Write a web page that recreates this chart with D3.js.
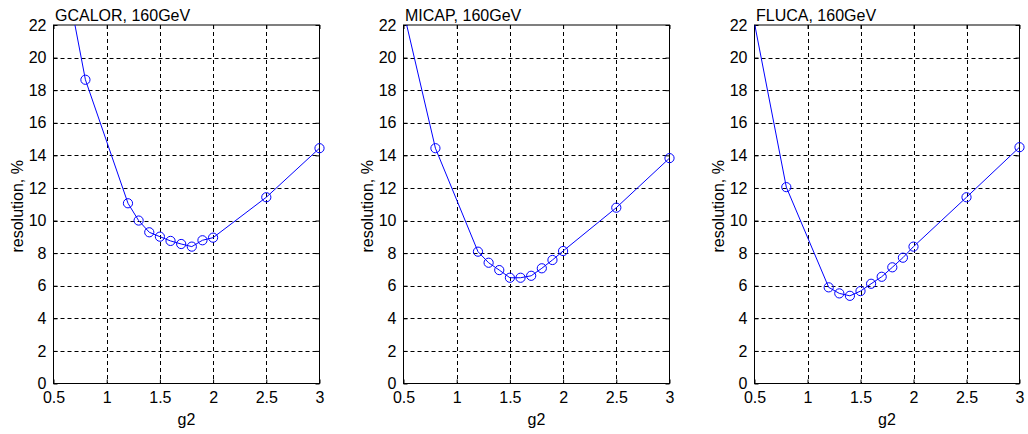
<!DOCTYPE html>
<html>
<head>
<meta charset="utf-8">
<script src="https://cdn.jsdelivr.net/npm/d3@7"></script>
<style>
  html, body { margin: 0; padding: 0; background: #fff; }
  svg { display: block; }
  text { font-family: "Liberation Sans", Arial, sans-serif; fill: #000; }
</style>
</head>
<body>
<svg id="chart" width="1028" height="434"></svg>
<script>
// ---- data ----
const g2 = [0.5, 0.8, 1.2, 1.3, 1.4, 1.5, 1.6, 1.7, 1.8, 1.9, 2.0, 2.5, 3.0];
const gcalor = [28.9, 18.64, 11.06, 10.0, 9.28, 9.01, 8.75, 8.56, 8.4, 8.79, 8.95, 11.43, 14.44];
const micap  = [22.84, 14.44, 8.09, 7.41, 6.96, 6.49, 6.49, 6.61, 7.07, 7.58, 8.13, 10.79, 13.83];
const fluca  = [22.1, 12.05, 5.9, 5.53, 5.38, 5.67, 6.12, 6.55, 7.13, 7.72, 8.4, 11.43, 14.5];
const titles = ["GCALOR, 160GeV", "MICAP, 160GeV", "FLUCA, 160GeV"];
const xTicks = [0.5, 1, 1.5, 2, 2.5, 3];
const yTicks = [0, 2, 4, 6, 8, 10, 12, 14, 16, 18, 20, 22];
const xLabel = "g2";
const yLabel = "resolution, %";

const series = [gcalor, micap, fluca];
const panelLeft = [53.5, 403.5, 754.5];
const panelWidth = [266, 266, 265];
const plotTop = 25, plotBottom = 383.5;

const svg = d3.select("#chart");

series.forEach((vals, i) => {
  const x = d3.scaleLinear().domain([0.5, 3]).range([panelLeft[i], panelLeft[i] + panelWidth[i]]);
  const y = d3.scaleLinear().domain([0, 22]).range([plotBottom, plotTop]);
  const g = svg.append("g");

  const clipId = "clip" + i;
  svg.append("clipPath").attr("id", clipId)
    .append("rect")
    .attr("x", x.range()[0]).attr("y", plotTop)
    .attr("width", x.range()[1] - x.range()[0]).attr("height", plotBottom - plotTop);

  // grid
  g.append("g").selectAll("line").data(xTicks.slice(1, -1)).join("line")
    .attr("x1", d => Math.round(x(d)) + 0.5).attr("x2", d => Math.round(x(d)) + 0.5)
    .attr("y1", plotTop).attr("y2", plotBottom)
    .attr("stroke", "#000").attr("stroke-width", 1).attr("stroke-dasharray", "4,3");
  g.append("g").selectAll("line").data(yTicks.slice(1, -1)).join("line")
    .attr("y1", d => Math.round(y(d)) + 0.5).attr("y2", d => Math.round(y(d)) + 0.5)
    .attr("x1", x.range()[0]).attr("x2", x.range()[1])
    .attr("stroke", "#000").attr("stroke-width", 1).attr("stroke-dasharray", "4,3");

  // axes (ticks inside)
  const xAxis = d3.axisBottom(x).tickValues(xTicks).tickSize(-4).tickPadding(8).tickFormat(d3.format("~g"));
  const xAxisTop = d3.axisTop(x).tickValues(xTicks).tickSize(-4).tickFormat("");
  const yAxis = d3.axisLeft(y).tickValues(yTicks).tickSize(-4).tickPadding(7).tickFormat(d3.format("~g"));
  const yAxisRight = d3.axisRight(y).tickValues(yTicks).tickSize(-4).tickFormat("");

  const ax = g.append("g").attr("transform", `translate(0,${plotBottom})`).call(xAxis);
  const axT = g.append("g").attr("transform", `translate(0,${plotTop})`).call(xAxisTop);
  const ay = g.append("g").attr("transform", `translate(${x.range()[0]},0)`).call(yAxis);
  const ayR = g.append("g").attr("transform", `translate(${x.range()[1]},0)`).call(yAxisRight);
  [ax, axT, ay, ayR].forEach(a => {
    a.select(".domain").remove();
    a.selectAll(".tick line").attr("stroke", "#000");
    a.selectAll("text").attr("font-size", 16).attr("font-family", "Liberation Sans, Arial, sans-serif").attr("fill", "#000");
  });

  // box
  g.append("rect")
    .attr("x", x.range()[0]).attr("y", plotTop)
    .attr("width", x.range()[1] - x.range()[0]).attr("height", plotBottom - plotTop)
    .attr("fill", "none").attr("stroke", "#000").attr("stroke-width", 1);

  // data line
  const pts = g2.map((gv, k) => [gv, vals[k]]);
  const line = d3.line().x(d => x(d[0])).y(d => y(d[1]));
  g.append("path").datum(pts)
    .attr("clip-path", `url(#${clipId})`)
    .attr("d", line).attr("fill", "none").attr("stroke", "#0000ff").attr("stroke-width", 1);

  g.append("g").selectAll("circle").data(pts.filter(d => d[1] <= 22)).join("circle")
    .attr("cx", d => x(d[0])).attr("cy", d => y(d[1])).attr("r", 4.6)
    .attr("fill", "none").attr("stroke", "#0000ff").attr("stroke-width", 1);

  // title
  g.append("text").attr("x", x.range()[0] + 1.5).attr("y", 20.5)
    .attr("font-size", 16).text(titles[i]);

  // x label
  g.append("text").attr("x", (x.range()[0] + x.range()[1]) / 2).attr("y", 425)
    .attr("text-anchor", "middle").attr("font-size", 16).text(xLabel);

  // y label
  g.append("text")
    .attr("transform", `translate(${x.range()[0] - 30.5},${(plotTop + plotBottom) / 2 + 2}) rotate(-90)`)
    .attr("text-anchor", "middle").attr("font-size", 16).text(yLabel);
});
</script>
</body>
</html>
